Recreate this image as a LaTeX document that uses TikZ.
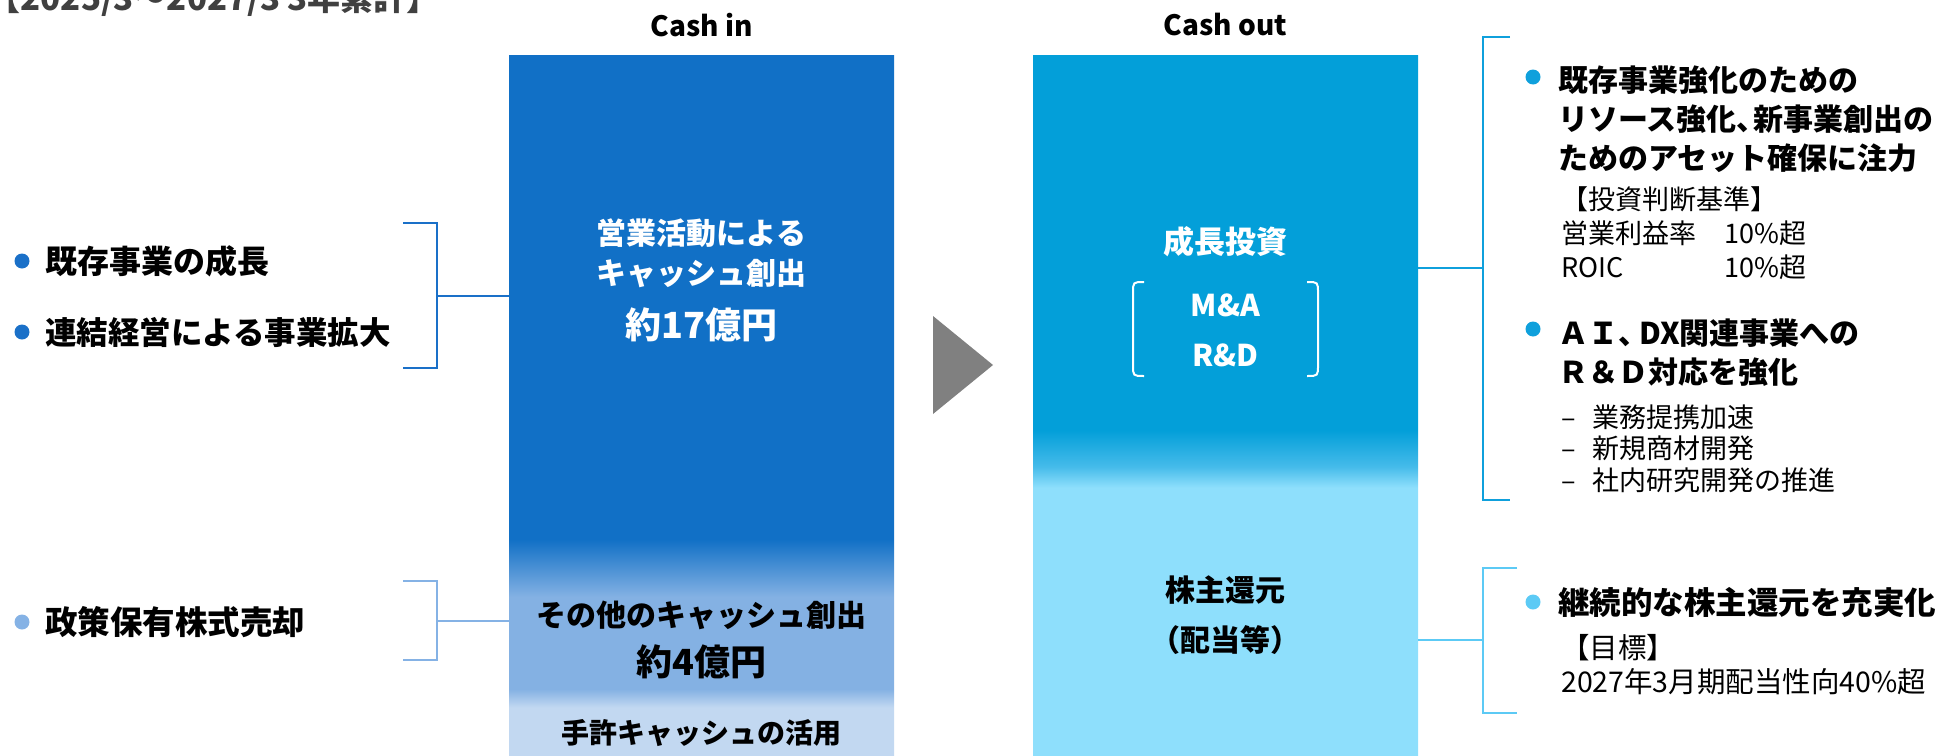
\documentclass[tikz,border=0pt]{standalone}
\usepackage{fontspec}
\setmainfont{Noto Sans CJK JP}
\usepackage{tikz}
\usetikzlibrary{positioning}

\definecolor{indark}{RGB}{17,112,198}
\definecolor{inmid}{RGB}{132,177,227}
\definecolor{inlight}{RGB}{194,216,241}
\definecolor{outdark}{RGB}{3,159,217}
\definecolor{outmid}{RGB}{69,187,234}
\definecolor{outlight}{RGB}{142,223,252}
\definecolor{leftblue}{RGB}{26,112,200}
\definecolor{leftlight}{RGB}{133,178,229}
\definecolor{rightcyan}{RGB}{15,160,220}
\definecolor{rightlight}{RGB}{92,202,245}
\definecolor{arrowgray}{RGB}{128,128,128}
\definecolor{periodgray}{RGB}{64,64,64}

% column fills: the middle 25bp..75bp covers the node
\pgfdeclareverticalshading{cashinshade}{100bp}{color(0bp)=(inlight); color(28.4bp)=(inlight);
  color(29.7bp)=(inmid); color(36.3bp)=(inmid); color(40.4bp)=(indark); color(100bp)=(indark)}
\pgfdeclareverticalshading{cashoutshade}{100bp}{color(0bp)=(outlight); color(44.1bp)=(outlight);
  color(45.6bp)=(outmid); color(48.2bp)=(outdark); color(100bp)=(outdark)}

\tikzset{%
  cashcol/.style={
    inner sep=0pt,
    minimum width=385pt,
    minimum height=700pt},
  colhead/.style={
    inner sep=0pt,
    font=\fontsize{28}{30}\selectfont\bfseries},
  boxtxt/.style={
    inner sep=0pt,
    align=center,
    font=\fontsize{30}{40}\selectfont\bfseries},
  amount/.style={
    inner sep=0pt,
    font=\fontsize{36}{40}\selectfont\bfseries},
  itemtxt/.style={
    anchor=west,
    inner sep=0pt,
    align=left,
    font=\fontsize{31}{39}\selectfont\bfseries},
  subtxt/.style={
    anchor=west,
    inner sep=0pt,
    align=left,
    font=\fontsize{27}{34}\selectfont},
  bulletdot/.style={
    circle,
    inner sep=0pt,
    minimum size=15pt},
  bracketline/.style={
    line width=2.5pt}
}

\begin{document}
\begin{tikzpicture}[x=1pt, y=-1pt]
    \useasboundingbox (0,0) rectangle (1946,755);

    % period caption, cut by the top edge
    \node[anchor=base east, inner sep=0pt, text=periodgray,
      font=\fontsize{33}{36}\selectfont\bfseries] (period) at (440,10)
      {【2025/3～2027/3 3年累計】};

    % the two columns
    \node[cashcol, shade, shading=cashinshade] (cin) at (701.5,405) {};
    \node[cashcol, shade, shading=cashoutshade] (cout) at (1225.5,405) {};
    \node[colhead] (hin) at (701.5,25) {Cash in};
    \node[colhead] (hout) at (1225.5,25) {Cash out};

    \node[boxtxt, text=white] (ops) at (701.5,253) {営業活動による\\キャッシュ創出};
    \node[amount, text=white] (ops17) at (701.5,325) {約17億円};
    \node[boxtxt] (other) at (701.5,615) {その他のキャッシュ創出};
    \node[amount] (other4) at (701.5,662) {約4億円};
    \node[boxtxt, font=\fontsize{28}{34}\selectfont\bfseries] (hand) at (701.5,733) {手許キャッシュの活用};

    \node[boxtxt, text=white, font=\fontsize{31}{40}\selectfont\bfseries] (growth) at (1225.5,242) {成長投資};
    \node[boxtxt, text=white, font=\fontsize{30}{50}\selectfont\bfseries] (mard) at (1225.5,330) {M\&A\\R\&D};
    \draw[white, line width=2pt]
      (1144,282) .. controls (1133,282) .. (1133,293) -- (1133,365)
      .. controls (1133,376) .. (1144,376);
    \draw[white, line width=2pt]
      (1307,282) .. controls (1318,282) .. (1318,293) -- (1318,365)
      .. controls (1318,376) .. (1307,376);
    \node[boxtxt, font=\fontsize{30}{50}\selectfont\bfseries] (payout) at (1225.5,615) {株主還元\\（配当等）};

    % arrow between the columns
    \fill[arrowgray] (933,316) -- (993,365) -- (933,414) -- cycle;

    % left side
    \node[bulletdot, fill=leftblue] (ld1) at (22,261) {};
    \node[bulletdot, fill=leftblue] (ld2) at (22,332) {};
    \node[bulletdot, fill=leftlight] (ld3) at (22,622) {};
    \node[itemtxt, font=\fontsize{32}{39}\selectfont\bfseries] (lt1) at (45,261) {既存事業の成長};
    \node[itemtxt, font=\fontsize{31.5}{39}\selectfont\bfseries] (lt2) at (45,332) {連結経営による事業拡大};
    \node[itemtxt, font=\fontsize{32.5}{39}\selectfont\bfseries] (lt3) at (45,622) {政策保有株式売却};

    \coordinate (lb1) at (437,296);
    \coordinate (lb2) at (437,621);
    \draw[bracketline, leftblue] (403,223) -- (437,223) -- (437,368) -- (403,368);
    \draw[bracketline, leftblue] (lb1) -- (lb1 -| cin.west);
    \draw[bracketline, leftlight] (403,581) -- (437,581) -- (437,660) -- (403,660);
    \draw[bracketline, leftlight] (lb2) -- (lb2 -| cin.west);

    % right side
    \coordinate (rb1) at (1483,268);
    \coordinate (rb2) at (1483,640);
    \draw[bracketline, rightcyan] (1510,37) -- (1483,37) -- (1483,500) -- (1510,500);
    \draw[bracketline, rightcyan] (cout.east |- rb1) -- (rb1);
    \draw[bracketline, rightlight] (1517,568) -- (1483,568) -- (1483,713) -- (1517,713);
    \draw[bracketline, rightlight] (cout.east |- rb2) -- (rb2);

    \node[bulletdot, fill=rightcyan] (rd1) at (1533,77) {};
    \node[bulletdot, fill=rightcyan] (rd2) at (1533,329) {};
    \node[bulletdot, fill=rightlight] (rd3) at (1533,602) {};

    \node[itemtxt, font=\fontsize{30}{39}\selectfont\bfseries] (rt1) at (1558,119)
      {既存事業強化のための\\リソース強化、\kern-0.45em 新事業創出の\\ためのアセット確保に注力};
    \node[subtxt] (rn1) at (1561,233)
      {【投資判断基準】\\\makebox[163pt][l]{営業利益率}10\%超\\\makebox[163pt][l]{ROIC}10\%超};
    \node[itemtxt, font=\fontsize{30}{39}\selectfont\bfseries] (rt2) at (1558,352.5)
      {ＡＩ、\kern-0.3em DX関連事業への\\Ｒ＆Ｄ対応を強化};
    \node[subtxt, font=\fontsize{27}{31.5}\selectfont] (rn2) at (1561,448.5)
      {\makebox[31pt][l]{–}業務提携加速\\\makebox[31pt][l]{–}新規商材開発\\\makebox[31pt][l]{–}社内研究開発の推進};
    \node[itemtxt, font=\fontsize{31.5}{39}\selectfont\bfseries] (rt3) at (1558,603) {継続的な株主還元を充実化};
    \node[subtxt, font=\fontsize{28.5}{34}\selectfont] (rn3) at (1561,665) {【目標】\\2027年3月期配当性向40\%超};

\end{tikzpicture}
\end{document}
